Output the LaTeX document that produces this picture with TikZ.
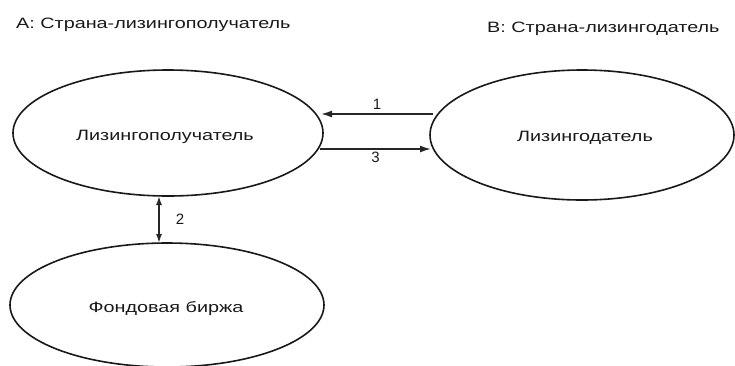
\documentclass[tikz,border=0pt]{standalone}
\usepackage{fontspec}
\setmainfont{Liberation Sans}
\usetikzlibrary{shapes.geometric,arrows.meta}
\newcommand{\wtext}[1]{\scalebox{1.32}[1]{#1}}
\tikzset{
  oval/.style={ellipse,draw=black!90,line width=1.6pt,inner sep=0pt},
  lbl/.style={inner sep=0pt,font=\fontsize{15}{18}\selectfont,text=black!90},
  flow/.style={draw=black!85,line width=1.6pt,-{Latex[length=11pt,width=7pt]}},
  bothflow/.style={draw=black!85,line width=1.6pt,{Latex[length=9pt,width=6pt]}-{Latex[length=9pt,width=6pt]}}
}
\begin{document}
\begin{tikzpicture}[x=1pt,y=-1pt]
  \useasboundingbox (0,0) rectangle (735,365);

  % country headings
  \node[lbl,anchor=west] (hA) at (16,25) {\wtext{A: Страна-лизингополучатель}};
  \node[lbl,anchor=west] (hB) at (487,29) {\wtext{B: Страна-лизингодатель}};

  % participants
  \node[oval,minimum width=310pt,minimum height=126pt] (lessee) at (168,133) {};
  \node[lbl] at (165,137) {\wtext{Лизингополучатель}};
  \node[oval,minimum width=304pt,minimum height=130pt] (lessor) at (582,135) {};
  \node[lbl] at (585,138) {\wtext{Лизингодатель}};
  \node[oval,minimum width=314pt,minimum height=124pt] (exch) at (167,305) {};
  \node[lbl] at (166,309) {\wtext{Фондовая биржа}};

  % arrow end points
  \coordinate (p1s) at (433,114);
  \coordinate (p1e) at (321,114);
  \coordinate (p3s) at (320,149);
  \coordinate (p3e) at (431,149);
  \coordinate (p2s) at (159,196);
  \coordinate (p2e) at (159,243);

  \draw[flow] (p1s) -- (p1e) node[lbl,midway,above=4pt] (n1) {1};
  \draw[flow] (p3s) -- (p3e) node[lbl,midway,below=2pt] (n3) {3};
  \draw[bothflow] (p2s) -- (p2e) node[lbl,midway,right=16pt] (n2) {2};
\end{tikzpicture}
\end{document}
